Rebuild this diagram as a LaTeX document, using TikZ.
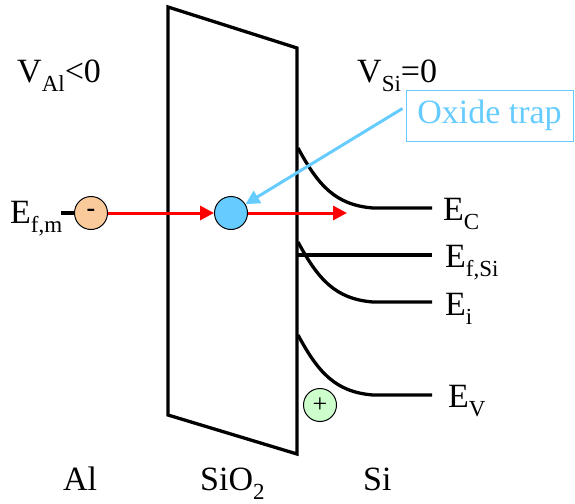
\documentclass[tikz,border=0pt]{standalone}
\usepackage{fontspec}
\setmainfont{Liberation Serif}
\newfontfamily\tnr{Liberation Serif}
\usetikzlibrary{arrows.meta}
\definecolor{trapblue}{HTML}{66CCFF}
\definecolor{holegreen}{HTML}{CCFFCC}
\definecolor{elecorange}{HTML}{FACA9A}
\newcommand{\lsub}[1]{\raisebox{-0.28em}{\fontsize{23}{23}\selectfont #1}}
\begin{document}
\begin{tikzpicture}[x=1pt,y=-1pt,
  lbl/.style={anchor=base west, inner sep=0pt, font=\tnr\fontsize{34}{40}\selectfont},
  band/.style={line width=3.3pt},
  particle/.style={circle, draw=black, line width=1pt, minimum size=33pt, inner sep=0pt},
  flow/.style={red, line width=3pt, -{Triangle[length=14pt,width=14pt]}},
  pointer/.style={trapblue, line width=3pt, -{Triangle[length=14pt,width=14pt]}},
]
\useasboundingbox (0,0) rectangle (575,503);
% oxide
\draw[band] (168,7) -- (297,48) -- (297,454) -- (168,415) -- cycle;
% bands
\draw[band] (298,148) .. controls (318,185) and (335,205) .. (373,208) -- (432,208);
\draw[band] (297,255) -- (432,255);
\draw[band] (298,242) .. controls (318,279) and (335,299) .. (373,302) -- (432,302);
\draw[band] (298,335) .. controls (318,372) and (335,392) .. (373,395) -- (432,395);
% labels
\node[lbl] (val) at (17,82) {V\lsub{Al}<0};
\node[lbl] (vsi) at (357,82) {V\lsub{Si}=0};
\node[lbl] (efm) at (10,223) {E\lsub{f,m}};
\node[lbl] (ec) at (443,220) {E\lsub{C}};
\node[lbl] (efsi) at (445,267) {E\lsub{f,Si}};
\node[lbl] (ei) at (445,315) {E\lsub{i}};
\node[lbl] (ev) at (448,407) {E\lsub{V}};
\node[lbl] (al) at (63,490) {Al};
\node[lbl] (sio2) at (200,490) {SiO\lsub{2}};
\node[lbl] (si) at (363,490) {Si};
% particles
\node[particle, fill=elecorange, font=\tnr\fontsize{26}{26}\selectfont\bfseries] (elec) at (91,213) {-};
\node[particle, fill=trapblue] (trap) at (231,213) {};
\node[particle, fill=holegreen, font=\tnr\fontsize{26}{26}\selectfont] (hole) at (320,405) {+};
\coordinate (lead) at (61,213);
\coordinate (goal) at (347,213);
\draw[line width=3.3pt] (lead) -- (elec.west);
\draw[flow] (elec.east) -- (trap.west);
\draw[flow] (trap.east) -- (goal);
% oxide trap label
\node[draw=trapblue, line width=1pt, text=trapblue, minimum width=167pt, minimum height=51pt, inner sep=0pt,
      font=\tnr\fontsize{34}{40}\selectfont] (box) at (489.5,115.5) {Oxide trap};
\draw[pointer] ([xshift=-3pt,yshift=7pt]box.west) -- (trap);
\end{tikzpicture}
\end{document}
